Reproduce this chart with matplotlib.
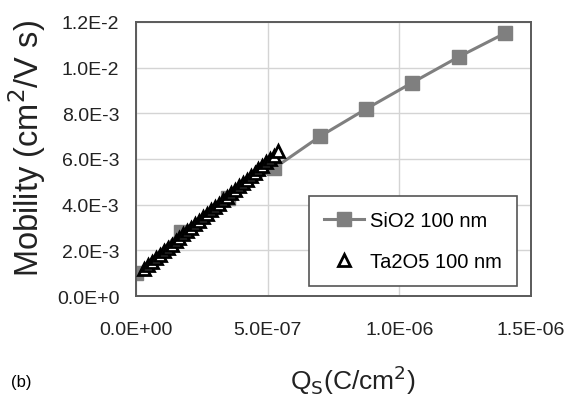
import matplotlib
matplotlib.use("Agg")
import matplotlib.pyplot as plt

plt.rcParams['font.family'] = ['Liberation Sans', 'DejaVu Sans']

# SiO2 100 nm
qs_sio2 = [0.0, 1.7e-7, 3.5e-7, 5.25e-7, 7.0e-7, 8.75e-7, 1.05e-6, 1.225e-6, 1.4e-6]
mu_sio2 = [1.0e-3, 2.8e-3, 4.3e-3, 5.6e-3, 7.0e-3, 8.2e-3, 9.35e-3, 1.047e-2, 1.15e-2]

# Ta2O5 100 nm
qs_ta = [3.0e-8, 4.5e-8, 6.0e-8, 7.5e-8, 9.0e-8, 1.05e-7, 1.2e-7, 1.35e-7, 1.5e-7,
         1.65e-7, 1.8e-7, 1.95e-7, 2.1e-7, 2.25e-7, 2.4e-7, 2.55e-7, 2.7e-7, 2.85e-7,
         3.0e-7, 3.15e-7, 3.3e-7, 3.45e-7, 3.6e-7, 3.75e-7, 3.9e-7, 4.05e-7, 4.2e-7,
         4.35e-7, 4.5e-7, 4.65e-7, 4.8e-7, 4.95e-7, 5.1e-7, 5.25e-7, 5.4e-7]
mu_ta = [1.2e-3, 1.35e-3, 1.5e-3, 1.65e-3, 1.8e-3, 1.95e-3, 2.1e-3, 2.25e-3, 2.4e-3,
         2.55e-3, 2.7e-3, 2.85e-3, 3.0e-3, 3.15e-3, 3.3e-3, 3.45e-3, 3.6e-3, 3.75e-3,
         3.9e-3, 4.05e-3, 4.2e-3, 4.35e-3, 4.5e-3, 4.65e-3, 4.8e-3, 4.95e-3, 5.1e-3,
         5.25e-3, 5.4e-3, 5.55e-3, 5.7e-3, 5.85e-3, 6.0e-3, 6.15e-3, 6.35e-3]

xticks = [0.0, 5e-7, 1e-6, 1.5e-6]
xticklabels = ["0.0E+00", "5.0E-07", "1.0E-06", "1.5E-06"]
yticks = [0.0, 2e-3, 4e-3, 6e-3, 8e-3, 1e-2, 1.2e-2]
yticklabels = ["0.0E+0", "2.0E-3", "4.0E-3", "6.0E-3", "8.0E-3", "1.0E-2", "1.2E-2"]

fig = plt.figure(figsize=(5.72, 4.02), dpi=100)
ax = fig.add_axes([136/572, 1 - 297/402, 395/572, 274/402])

ax.plot(qs_sio2, mu_sio2, color='#7f7f7f', lw=2.2, marker='s', ms=10,
        label='SiO2 100 nm', zorder=2)
ax.plot(qs_ta, mu_ta, ls='none', marker='^', ms=8, mfc='white', mec='black',
        mew=2, label='Ta2O5 100 nm', zorder=3)

ax.set_xlim(0, 1.5e-6)
ax.set_ylim(0, 1.2e-2)
ax.set_xticks(xticks)
ax.set_xticklabels(xticklabels)
ax.set_yticks(yticks)
ax.set_yticklabels(yticklabels)
ax.tick_params(length=0, labelsize=14, colors='#222222')
ax.tick_params(axis='x', pad=18)
ax.tick_params(axis='y', pad=12)
ax.grid(True, color='#d4d4d4', lw=1)
ax.set_axisbelow(True)
for s in ax.spines.values():
    s.set_color('#5a5a5a')
    s.set_linewidth(1.4)

fig.text(27/572, 1 - 149/402, 'Mobility (cm$^2$/V s)', fontsize=23.5,
         rotation=90, ha='center', va='center', color='#222222')
fig.text(353/572, 1 - 380/402, r'Q$_\mathrm{S}$(C/cm$^2$)', fontsize=19,
         ha='center', va='center', color='#222222')
fig.text(21/572, 1 - 383/402, '(b)', fontsize=12, ha='center', va='center')

leg = ax.legend(loc='lower right', bbox_to_anchor=(0.965, 0.035), fontsize=14.5,
                fancybox=False, framealpha=1, edgecolor='#555555',
                handlelength=2.0, handletextpad=0.3, borderpad=0.75,
                labelspacing=1.1, borderaxespad=0)
leg.get_frame().set_linewidth(1.2)

fig.savefig('out.png', dpi=100)
